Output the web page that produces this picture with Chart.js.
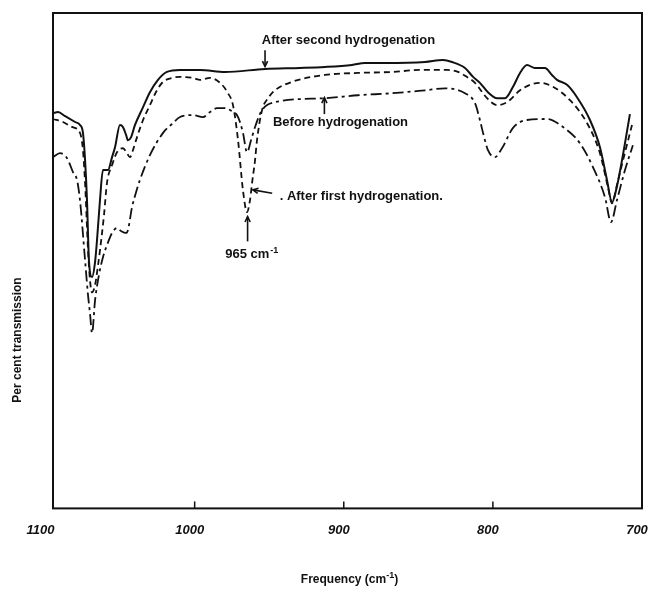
<!DOCTYPE html>
<html>
<head>
<meta charset="utf-8">
<script src="https://cdn.jsdelivr.net/npm/chart.js@4.4.0/dist/chart.umd.min.js"></script>
<style>
html, body { margin: 0; padding: 0; background: #fff; }
#wrap { width: 650px; height: 593px; }
</style>
</head>
<body>
<div id="wrap"><canvas id="irChart" width="650" height="593"></canvas></div>
<script>
// frequency axis ticks (cm-1)
const tickFreqs = [1100, 1000, 900, 800, 700];

// After second hydrogenation (solid)
const secondFreq = [1095, 1091.6, 1087, 1080.2, 1076.9, 1074.9, 1073.5, 1072.2, 1070.9, 1068.8, 1066.8, 1065.5, 1063.5, 1061.5, 1058.1, 1055.4, 1053.4, 1050.1, 1048.1, 1046, 1044.7, 1042.7, 1040, 1034.6, 1030, 1024.6, 1018.6, 1009.8, 996.4, 979.7, 952.8, 929.4, 912.6, 894.5, 885.8, 872.4, 845.5, 833.5, 827.4, 818.7, 813.3, 808.7, 803.3, 797.2, 791.9, 786.5, 781.8, 777.1, 771.8, 765.1, 760.4, 757, 750.3, 743.6, 734.9, 728.2, 723.5, 720.1, 717.4, 713.4, 708.1];
const secondTrans = [79.8, 80.0, 79.2, 78.0, 77.4, 75.8, 70.3, 62.2, 50.1, 46.7, 49.7, 54.1, 62.2, 68.3, 68.3, 70.9, 72.9, 77.4, 77.0, 75.4, 74.3, 74.9, 77.4, 81.0, 84.0, 86.5, 88.1, 88.5, 88.5, 88.1, 88.7, 88.9, 89.1, 89.5, 89.9, 89.9, 90.1, 90.5, 90.1, 88.9, 87.1, 85.9, 84.0, 82.8, 82.8, 85.1, 87.9, 89.5, 88.9, 88.9, 87.5, 86.5, 85.5, 83.0, 78.4, 72.9, 66.3, 61.8, 64.2, 70.3, 79.6];

// After first hydrogenation (dashed)
const firstFreq = [1095, 1088.3, 1082.3, 1076.9, 1074.9, 1073.5, 1071.5, 1070.2, 1068.8, 1066.8, 1064.8, 1063.5, 1060.8, 1058.8, 1055.4, 1052.1, 1048.1, 1045.4, 1043.4, 1041.4, 1038.7, 1034.6, 1030, 1025.3, 1021.2, 1015.2, 1009.8, 1001.1, 996.4, 989.7, 983, 977.6, 974.3, 970.9, 967.6, 964.9, 962.9, 961.5, 959.5, 958.2, 954.8, 950.8, 946.1, 934.7, 912.6, 890.5, 867.7, 849, 830.8, 823.4, 817.4, 812, 803.9, 797.2, 790.5, 781.8, 775.1, 768.4, 759.7, 748.3, 736.9, 728.2, 722.8, 720.1, 716.8, 712.7, 706.7];
const firstTrans = [78.6, 78.0, 77.0, 75.8, 72.3, 65.7, 52.1, 46.1, 43.6, 45.1, 49.1, 52.1, 59.2, 65.7, 69.3, 71.9, 72.7, 71.7, 70.9, 72.3, 74.9, 78.4, 81.4, 84.4, 86.1, 86.9, 87.1, 86.9, 86.5, 86.9, 85.9, 83.8, 81.4, 74.3, 64.2, 59.8, 62.2, 65.7, 70.3, 74.3, 80.4, 82.8, 84.4, 86.1, 87.5, 87.9, 88.1, 88.5, 88.5, 88.1, 87.1, 85.9, 82.8, 81.4, 82.0, 84.4, 85.5, 85.9, 85.1, 82.4, 77.8, 71.7, 64.8, 61.6, 65.3, 70.3, 77.4];

// Before hydrogenation (dash-dot)
const beforeFreq = [1095, 1090.3, 1085.6, 1081.6, 1078.9, 1076.9, 1073.5, 1071.5, 1070.2, 1068.8, 1066.8, 1064.2, 1061.5, 1058.1, 1055.4, 1052.1, 1049.4, 1046, 1044.7, 1042, 1039.3, 1036.7, 1030, 1021.2, 1015.2, 1009.8, 1001.1, 994.4, 989.7, 985, 979.7, 976.3, 970.9, 967.6, 964.9, 962.2, 959.5, 954.8, 946.1, 912.6, 890.5, 867.7, 845.5, 832.1, 818.7, 812, 808.7, 806.6, 803.3, 798.6, 793.9, 786.5, 777.1, 763.7, 753, 741.6, 732.9, 724.8, 720.8, 716.8, 711.4, 706.1];
const beforeTrans = [70.9, 71.7, 70.7, 67.9, 66.3, 62.2, 50.1, 43.0, 39.4, 35.4, 42.0, 47.1, 50.7, 53.7, 55.6, 56.6, 56.0, 55.6, 56.2, 60.8, 63.8, 66.3, 71.3, 75.8, 77.6, 79.0, 79.4, 79.0, 80.0, 80.8, 80.8, 80.4, 79.0, 75.8, 71.9, 74.3, 77.0, 80.4, 82.0, 82.8, 83.4, 83.8, 84.4, 84.8, 83.8, 81.8, 78.4, 75.8, 72.3, 70.9, 72.7, 76.8, 78.4, 78.6, 77.0, 73.7, 68.9, 62.8, 57.8, 62.2, 68.3, 73.3];

function toPoints(freq, trans) {
    return freq.map((f, i) => ({ x: f, y: trans[i] }));
}

const INK = "#111";
const FONT = "'Liberation Sans', Arial, sans-serif";

// frame, inward ticks, axis titles and the curve labels
const annotate = {
    id: "annotate",
    afterDatasetsDraw(chart) {
        const { ctx, chartArea: a, scales: { x, y } } = chart;
        const px = v => x.getPixelForValue(v);
        const py = v => y.getPixelForValue(v);

        ctx.save();
        ctx.strokeStyle = INK;
        ctx.fillStyle = INK;
        ctx.lineWidth = 2;
        ctx.strokeRect(a.left, a.top, a.right - a.left, a.bottom - a.top);

        ctx.lineWidth = 1.5;
        tickFreqs.slice(1, -1).forEach(v => {
            ctx.beginPath();
            ctx.moveTo(px(v), a.bottom);
            ctx.lineTo(px(v), a.bottom - 7);
            ctx.stroke();
        });

        function arrow(x1, y1, x2, y2) {
            const ang = Math.atan2(y2 - y1, x2 - x1);
            ctx.lineWidth = 1.6;
            ctx.beginPath();
            ctx.moveTo(x1, y1);
            ctx.lineTo(x2, y2);
            ctx.stroke();
            ctx.beginPath();
            ctx.moveTo(x2 - 6 * Math.cos(ang - 0.45), y2 - 6 * Math.sin(ang - 0.45));
            ctx.lineTo(x2, y2);
            ctx.lineTo(x2 - 6 * Math.cos(ang + 0.45), y2 - 6 * Math.sin(ang + 0.45));
            ctx.stroke();
        }

        ctx.font = "bold 13px " + FONT;
        ctx.textBaseline = "middle";
        ctx.textAlign = "left";

        ctx.fillText("After second hydrogenation", px(955), py(94.5));
        arrow(px(952.8), py(92.5), px(952.8), py(89.2));

        ctx.fillText("Before hydrogenation", px(947.5), py(78.0));
        arrow(px(913), py(79.6), px(913), py(82.9));

        ctx.fillText(". After first hydrogenation.", px(943), py(63.0));
        arrow(px(948), py(63.6), px(961), py(64.3));

        // 965 cm-1 marker
        const lx = px(979.5), ly = py(51.3);
        ctx.fillText("965 cm", lx, ly);
        const w = ctx.measureText("965 cm").width;
        ctx.font = "bold 9px " + FONT;
        ctx.fillText("-1", lx + w + 1, ly - 4);
        arrow(px(964.5), py(53.9), px(964.5), py(58.9));

        // axis titles
        ctx.font = "bold 12px " + FONT;
        ctx.textAlign = "center";
        const tx = (a.left + a.right) / 2 + 2, ty = a.bottom + 71;
        const main = "Frequency (cm";
        const mw = ctx.measureText(main).width;
        ctx.font = "bold 9px " + FONT;
        const sw = ctx.measureText("-1").width;
        ctx.font = "bold 12px " + FONT;
        const cw = ctx.measureText(")").width;
        let sx = tx - (mw + sw + cw) / 2;
        ctx.textAlign = "left";
        ctx.fillText(main, sx, ty);
        ctx.font = "bold 9px " + FONT;
        ctx.fillText("-1", sx + mw, ty - 4);
        ctx.font = "bold 12px " + FONT;
        ctx.fillText(")", sx + mw + sw, ty);

        ctx.translate(a.left - 35, a.top + 327);
        ctx.rotate(-Math.PI / 2);
        ctx.textAlign = "center";
        ctx.fillText("Per cent transmission", 0, 0);
        ctx.restore();
    }
};

const ctx = document.getElementById("irChart").getContext("2d");

new Chart(ctx, {
    type: "line",
    data: {
        datasets: [
            {
                label: "After second hydrogenation",
                data: toPoints(secondFreq, secondTrans),
                borderColor: INK,
                borderWidth: 2,
                borderDash: []
            },
            {
                label: "After first hydrogenation",
                data: toPoints(firstFreq, firstTrans),
                borderColor: INK,
                borderWidth: 1.8,
                borderDash: [6, 4]
            },
            {
                label: "Before hydrogenation",
                data: toPoints(beforeFreq, beforeTrans),
                borderColor: INK,
                borderWidth: 1.8,
                borderDash: [11, 4, 3, 4]
            }
        ]
    },
    options: {
        responsive: false,
        animation: false,
        devicePixelRatio: 1,
        layout: { padding: { left: 53, right: 8, top: 13, bottom: 41 } },
        elements: {
            point: { radius: 0 },
            line: { cubicInterpolationMode: "monotone", fill: false }
        },
        plugins: {
            legend: { display: false },
            tooltip: { enabled: false }
        },
        scales: {
            x: {
                type: "linear",
                reverse: true,
                min: 700,
                max: 1095,
                grid: { display: false, drawTicks: false },
                border: { display: false },
                afterBuildTicks: scale => {
                    scale.ticks = tickFreqs.map(v => ({ value: v }));
                },
                afterFit: scale => {
                    scale.paddingLeft = 0;
                    scale.paddingRight = 0;
                },
                ticks: {
                    autoSkip: false,
                    maxRotation: 0,
                    padding: 14,
                    labelOffset: -5,
                    color: INK,
                    font: { family: FONT, size: 13, style: "italic", weight: "bold" },
                    callback: v => String(v)
                }
            },
            y: {
                display: false,
                min: 0,
                max: 100
            }
        }
    },
    plugins: [annotate]
});
</script>
</body>
</html>
